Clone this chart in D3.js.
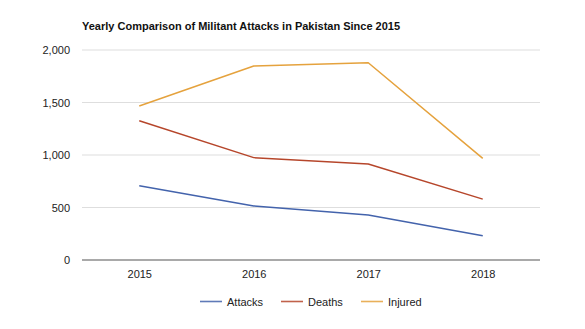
<!DOCTYPE html>
<html>
<head>
<meta charset="utf-8">
<script src="https://cdn.jsdelivr.net/npm/d3@7"></script>
<style>
  html, body { margin: 0; padding: 0; background: #fff; }
  svg { display: block; font-family: "Liberation Sans", Arial, Helvetica, sans-serif; }
</style>
</head>
<body>
<svg id="chart" width="585" height="329"></svg>
<script>
const title = "Yearly Comparison of Militant Attacks in Pakistan Since 2015";
const years = ["2015", "2016", "2017", "2018"];
const attacks = [708, 515, 429, 232];
const deaths = [1327, 975, 914, 580];
const injured = [1467, 1848, 1879, 968];
const yTicks = [0, 500, 1000, 1500, 2000];
const seriesNames = ["Attacks", "Deaths", "Injured"];
const seriesColors = ["#4363ac", "#b6462b", "#e5a23d"];

const series = [
  { name: seriesNames[0], values: attacks, color: seriesColors[0] },
  { name: seriesNames[1], values: deaths, color: seriesColors[1] },
  { name: seriesNames[2], values: injured, color: seriesColors[2] }
];

const svg = d3.select("#chart");
const mLeft = 82, mRight = 540, mTop = 50, mBottom = 260;

const x = d3.scalePoint().domain(years).range([mLeft, mRight]).padding(0.5);
const y = d3.scaleLinear().domain([0, 2000]).range([mBottom, mTop]);

svg.append("text")
  .attr("x", mLeft).attr("y", 30)
  .attr("font-size", 11).attr("font-weight", "bold").attr("fill", "#111")
  .text(title);

// gridlines
svg.append("g").selectAll("line").data(yTicks.filter(d => d > 0)).join("line")
  .attr("x1", mLeft).attr("x2", mRight)
  .attr("y1", d => y(d)).attr("y2", d => y(d))
  .attr("stroke", "#dedede").attr("stroke-width", 1.2);

// y axis labels
const yAxis = d3.axisLeft(y).tickValues(yTicks).tickFormat(d3.format(",")).tickSize(0).tickPadding(12);
const yg = svg.append("g").attr("transform", `translate(${mLeft},0)`).call(yAxis);
yg.select(".domain").remove();
yg.selectAll("text").attr("font-size", 11).attr("fill", "#222")
  .attr("font-family", "'Liberation Sans', Arial, sans-serif");

// x axis
const xAxis = d3.axisBottom(x).tickSize(0).tickPadding(10);
const xg = svg.append("g").attr("transform", `translate(0,${mBottom})`).call(xAxis);
xg.select(".domain").attr("stroke", "#555").attr("stroke-width", 1.2).attr("d", `M${mLeft},0H${mRight}`);
xg.selectAll("text").attr("font-size", 11).attr("fill", "#222")
  .attr("font-family", "'Liberation Sans', Arial, sans-serif");

// lines
const line = d3.line().x((d, i) => x(years[i])).y(d => y(d));
svg.append("g").selectAll("path").data(series).join("path")
  .attr("d", d => line(d.values))
  .attr("fill", "none")
  .attr("stroke", d => d.color)
  .attr("stroke-width", 1.5)
  .attr("stroke-linejoin", "round");

// legend
const legendX = [200, 281, 361];
const lg = svg.append("g");
series.forEach((s, i) => {
  const g = lg.append("g").attr("transform", `translate(${legendX[i]},301.5)`);
  g.append("line").attr("x1", 0).attr("x2", 22).attr("y1", 0).attr("y2", 0)
    .attr("stroke", s.color).attr("stroke-width", 1.6).attr("stroke-opacity", 0.85);
  g.append("text").attr("x", 27).attr("y", 4)
    .attr("font-size", 11).attr("fill", "#222").text(s.name);
});
</script>
</body>
</html>
